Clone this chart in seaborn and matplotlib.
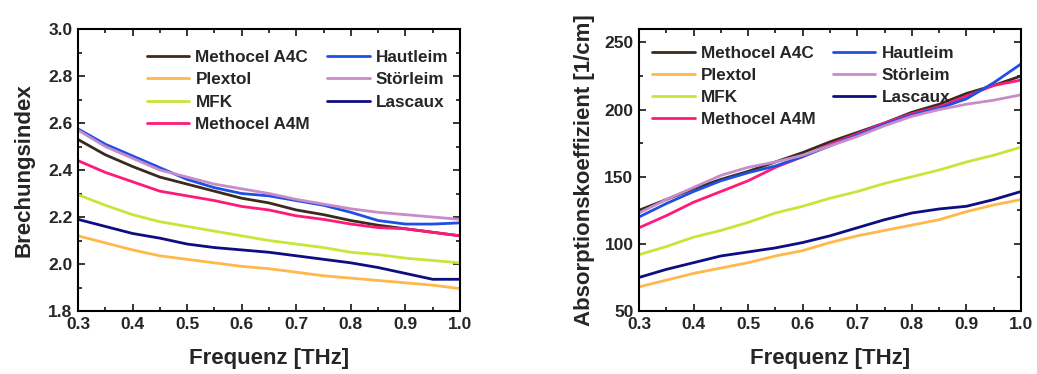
import numpy as np
import pandas as pd
import matplotlib
matplotlib.use("Agg")
import matplotlib.pyplot as plt
import seaborn as sns
from matplotlib.ticker import MultipleLocator

freq = [0.30, 0.35, 0.40, 0.45, 0.50, 0.55, 0.60, 0.65, 0.70, 0.75, 0.80, 0.85, 0.90, 0.95, 1.00]
series = ["Methocel A4C", "Plextol", "MFK", "Methocel A4M", "Hautleim", "Störleim", "Lascaux"]
colors = ["#3b2a1e", "#ffb84a", "#c6e63a", "#ff1a78", "#1f50e6", "#c88cc8", "#0e0e82"]

n_a4c = [2.53, 2.465, 2.415, 2.37, 2.34, 2.31, 2.28, 2.26, 2.23, 2.21, 2.185, 2.165, 2.15, 2.135, 2.12]
n_plextol = [2.12, 2.09, 2.06, 2.035, 2.02, 2.005, 1.99, 1.98, 1.965, 1.95, 1.94, 1.93, 1.92, 1.91, 1.895]
n_mfk = [2.295, 2.25, 2.21, 2.18, 2.16, 2.14, 2.12, 2.10, 2.085, 2.07, 2.05, 2.04, 2.025, 2.015, 2.005]
n_a4m = [2.44, 2.39, 2.35, 2.31, 2.29, 2.27, 2.245, 2.23, 2.205, 2.19, 2.17, 2.155, 2.15, 2.135, 2.12]
n_haut = [2.575, 2.51, 2.46, 2.41, 2.36, 2.325, 2.30, 2.29, 2.27, 2.25, 2.22, 2.185, 2.17, 2.17, 2.175]
n_stoer = [2.57, 2.50, 2.45, 2.40, 2.37, 2.34, 2.32, 2.30, 2.275, 2.255, 2.235, 2.22, 2.21, 2.20, 2.19]
n_lasc = [2.19, 2.16, 2.13, 2.11, 2.085, 2.07, 2.06, 2.05, 2.035, 2.02, 2.005, 1.985, 1.96, 1.935, 1.935]

a_a4c = [125, 133, 141, 148, 154, 161, 168, 176, 183, 190, 198, 204, 212, 218, 225]
a_plextol = [68, 73, 78, 82, 86, 91, 95, 101, 106, 110, 114, 118, 124, 129, 133]
a_mfk = [92, 98, 105, 110, 116, 123, 128, 134, 139, 145, 150, 155, 161, 166, 172]
a_a4m = [112, 121, 131, 139, 147, 157, 165, 174, 182, 190, 197, 202, 210, 218, 222]
a_haut = [120, 130, 139, 147, 153, 158, 165, 173, 181, 189, 196, 201, 208, 220, 234]
a_stoer = [123, 133, 142, 151, 157, 161, 166, 173, 180, 188, 195, 200, 204, 207, 211]
a_lasc = [75, 81, 86, 91, 94, 97, 101, 106, 112, 118, 123, 126, 128, 133, 139]

n_vals = [n_a4c, n_plextol, n_mfk, n_a4m, n_haut, n_stoer, n_lasc]
a_vals = [a_a4c, a_plextol, a_mfk, a_a4m, a_haut, a_stoer, a_lasc]

def long_df(vals):
    rows = []
    for name, v in zip(series, vals):
        for f, y in zip(freq, v):
            rows.append((name, f, y))
    return pd.DataFrame(rows, columns=["Material", "Frequenz", "Wert"])

sns.set_style("ticks")
plt.rcParams["font.family"] = ["Liberation Sans", "DejaVu Sans"]
plt.rcParams["font.weight"] = "bold"

fig = plt.figure(figsize=(10.37, 3.74), dpi=100)
ax1 = fig.add_axes([0.0752, 0.1684, 0.3684, 0.754])
ax2 = fig.add_axes([0.6162, 0.1684, 0.3684, 0.754])

palette = dict(zip(series, colors))

for ax, vals, ylim, ymaj, ymin, ylabel, yfmt in [
    (ax1, n_vals, (1.8, 3.0), 0.2, 0.1, "Brechungsindex", "{:.1f}"),
    (ax2, a_vals, (50, 260), 50, 25, "Absorptionskoeffizient [1/cm]", "{:.0f}"),
]:
    df = long_df(vals)
    sns.lineplot(data=df, x="Frequenz", y="Wert", hue="Material", hue_order=series,
                 palette=palette, linewidth=2.0, ax=ax, legend=True)
    ax.set_xlim(0.3, 1.0)
    ax.set_ylim(*ylim)
    ax.xaxis.set_major_locator(MultipleLocator(0.1))
    ax.xaxis.set_minor_locator(MultipleLocator(0.05))
    ax.yaxis.set_major_locator(MultipleLocator(ymaj))
    ax.yaxis.set_minor_locator(MultipleLocator(ymin))
    ax.set_xticklabels([f"{t:.1f}" for t in ax.get_xticks()])
    ax.set_yticklabels([yfmt.format(t) for t in ax.get_yticks()])
    ax.tick_params(which="both", direction="in", top=True, right=True, width=1.3)
    ax.tick_params(which="major", length=5, labelsize=12.5, pad=4)
    ax.tick_params(which="minor", length=3)
    for lab in ax.get_xticklabels() + ax.get_yticklabels():
        lab.set_fontweight("bold")
    for s in ax.spines.values():
        s.set_linewidth(1.5)
        s.set_color("black")
    ax.set_xlabel("Frequenz [THz]", fontsize=16, fontweight="bold", labelpad=12)
    ax.set_ylabel(ylabel, fontsize=16, fontweight="bold", labelpad=10 if ax is ax1 else 7)
    handles, labels = ax.get_legend_handles_labels()
    ax.legend(handles, labels, ncol=2, frameon=False, loc="upper left",
              bbox_to_anchor=(0.18 if ax is ax1 else 0.035, 0.925 if ax is ax1 else 0.94),
              borderaxespad=0, borderpad=0,
              handlelength=2.5, handletextpad=0.35, columnspacing=1.0, labelspacing=0.42,
              prop={"weight": "bold", "size": 12.3})

fig.savefig("out.png", dpi=100)
